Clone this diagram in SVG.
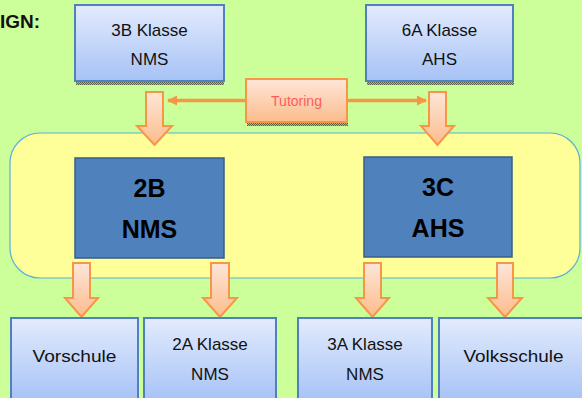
<svg xmlns="http://www.w3.org/2000/svg" width="582" height="398" viewBox="0 0 582 398">
<defs>
<linearGradient id="gBox" x1="0" y1="0" x2="0" y2="1">
<stop offset="0" stop-color="#e3ebfd"/>
<stop offset="1" stop-color="#a6c2f6"/>
</linearGradient>
<linearGradient id="gOr" x1="0" y1="0" x2="0" y2="1">
<stop offset="0" stop-color="#fee6d8"/>
<stop offset="1" stop-color="#fbbc8c"/>
</linearGradient>
<pattern id="shad" width="2" height="2" patternUnits="userSpaceOnUse">
<rect width="2" height="2" fill="#a6b48a"/>
<rect width="1" height="1" fill="#5e6650"/>
<rect x="1" y="1" width="1" height="1" fill="#5e6650"/>
</pattern>
<marker id="ah" viewBox="0 0 10 10" refX="9" refY="5" markerWidth="3" markerHeight="3" orient="auto-start-reverse" markerUnits="strokeWidth">
<path d="M0,0 L10,5 L0,10 z" fill="#f79646"/>
</marker>
</defs>
<style>
.lbl{font-family:"Liberation Sans",Arial,sans-serif;font-size:17px;fill:#111;text-anchor:middle}
.big{font-family:"Liberation Sans",Arial,sans-serif;font-size:25px;font-weight:bold;fill:#000;text-anchor:middle}
.box{fill:url(#gBox);stroke:#4f81bd;stroke-width:2}
.dark{fill:#4f81bd;stroke:#385d8a;stroke-width:1.5}
.arr{fill:url(#gOr);stroke:#f79646;stroke-width:2;stroke-linejoin:miter}
.sh{fill:url(#shad)}
</style>
<rect width="582" height="398" fill="#ccff99"/>
<text x="0" y="28" font-family="Liberation Sans,Arial,sans-serif" font-size="19" font-weight="bold" fill="#111">IGN:</text>

<g id="container">
<rect x="10" y="133" width="570" height="145" rx="30" ry="30" fill="#ffff99" stroke="#5aaedc" stroke-width="1.2"/>
</g>

<g id="connectors">
<line x1="168" y1="100.5" x2="426" y2="100.5" stroke="#f79646" stroke-width="3.5" marker-start="url(#ah)" marker-end="url(#ah)"/>
<path class="arr" d="M146,92 H163 V126 H172 L154.5,145 L137,126 H146 Z"/>
<path class="arr" d="M429,92 H446 V126 H454 L437.5,145 L421,126 H429 Z"/>
<path class="arr" d="M73,263 H90 V298 H98 L81.5,317 L65,298 H73 Z"/>
<path class="arr" d="M211,263 H229 V298 H237 L220,317 L203,298 H211 Z"/>
<path class="arr" d="M364,263 H381 V298 H389 L372.5,317 L356,298 H364 Z"/>
<path class="arr" d="M497,263 H513 V298 H522 L505,317 L488,298 H497 Z"/>
</g>

<g id="tutoring">
<rect class="sh" x="247" y="121" width="101" height="5"/>
<rect x="246" y="79" width="101" height="43" fill="url(#gOr)" stroke="#f79646" stroke-width="2"/>
<text x="296.5" y="106" font-family="Liberation Sans,Arial,sans-serif" font-size="14" fill="#ff5b5b" text-anchor="middle">Tutoring</text>
</g>

<g id="n3B">
<rect class="sh" x="76" y="81" width="148" height="4"/>
<rect class="box" x="75" y="5" width="149" height="76"/>
<text class="lbl" x="149.5" y="36">3B Klasse</text>
<text class="lbl" x="149.5" y="65">NMS</text>
</g>

<g id="n6A">
<rect class="sh" x="367" y="81" width="147" height="4"/>
<rect class="box" x="366" y="5" width="147" height="76"/>
<text class="lbl" x="439.5" y="36">6A Klasse</text>
<text class="lbl" x="439.5" y="65">AHS</text>
</g>

<g id="n2B">
<rect class="dark" x="75" y="158" width="149" height="100"/>
<text class="big" x="149.5" y="197">2B</text>
<text class="big" x="149.5" y="238">NMS</text>
</g>

<g id="n3C">
<rect class="dark" x="364" y="157" width="148" height="100"/>
<text class="big" x="438" y="196">3C</text>
<text class="big" x="438" y="237">AHS</text>
</g>

<g id="nVorschule">
<rect class="box" x="11" y="318" width="127" height="84"/>
<text class="lbl" x="74.5" y="362" textLength="84" lengthAdjust="spacingAndGlyphs">Vorschule</text>
</g>

<g id="n2A">
<rect class="box" x="144" y="318" width="132" height="84"/>
<text class="lbl" x="210" y="350">2A Klasse</text>
<text class="lbl" x="210" y="380">NMS</text>
</g>

<g id="n3A">
<rect class="box" x="298" y="318" width="134" height="84"/>
<text class="lbl" x="365" y="350">3A Klasse</text>
<text class="lbl" x="365" y="380">NMS</text>
</g>

<g id="nVolksschule">
<rect class="box" x="439" y="318" width="145" height="84"/>
<text class="lbl" x="513.5" y="362" textLength="100" lengthAdjust="spacingAndGlyphs">Volksschule</text>
</g>
</svg>
